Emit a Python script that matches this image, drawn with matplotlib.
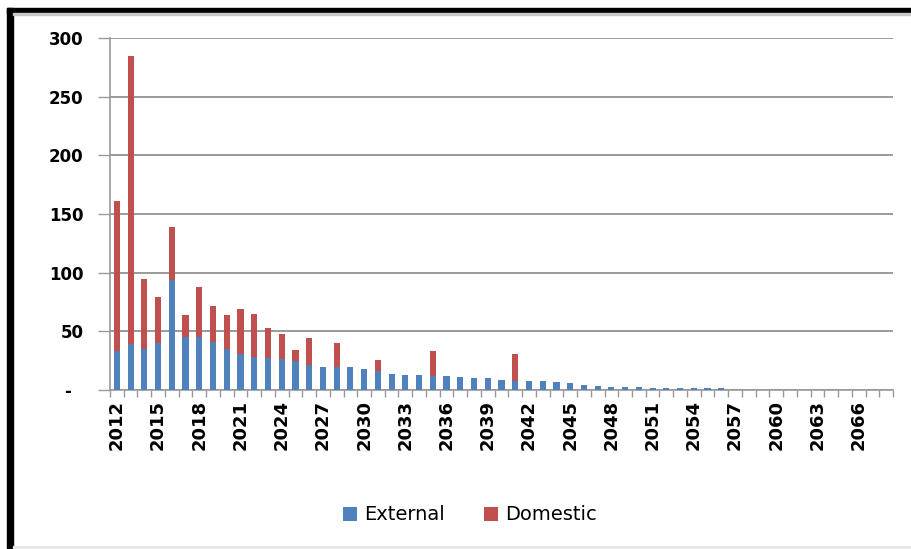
import matplotlib.pyplot as plt
from matplotlib.patches import Rectangle
import numpy as np

# years on the x axis, one bar per year
years = list(range(2012, 2069))

external = [33, 39, 35, 40, 94, 45, 45.5, 41, 35, 31,
            28.5, 27.5, 26.5, 24.5, 21.5, 19.5, 19.5, 19.5, 17.5, 16,
            14, 13, 13, 12, 12, 11, 10, 10, 8.5, 7.7,
            7.7, 7.7, 6.5, 5.7, 4.3, 3.4, 2.3, 2.3, 2.3, 1.4,
            1.4, 1.4, 1.4, 1.4, 1.4,
            0, 0, 0, 0, 0, 0, 0, 0, 0, 0, 0, 0]

domestic = [128, 245.5, 60, 39, 45, 19, 42, 31, 28.5, 38,
            36, 25, 21, 9.5, 23, 0, 20.5, 0, 0, 9.5,
            0, 0, 0, 21, 0, 0, 0, 0, 0, 23] + [0] * 27

yticks = [0, 50, 100, 150, 200, 250, 300]
ytick_labels = ["-  ", "50", "100", "150", "200", "250", "300"]

blue = "#4F81BD"
red = "#C0504D"
grid_col = "#9a9a9a"

fig = plt.figure(figsize=(9.11, 5.49), dpi=100)
ax = fig.add_axes([110 / 911, 1 - 390 / 549, 783 / 911, 352 / 549])

x = np.arange(len(years))
ax.bar(x, external, width=0.45, color=blue, label="External", zorder=3)
ax.bar(x, domestic, width=0.45, bottom=external, color=red, label="Domestic", zorder=3)

ax.set_xlim(-0.5, len(years) - 0.5)
ax.set_ylim(0, 300)

ax.set_yticks(yticks)
ax.set_yticklabels(ytick_labels, fontsize=12, fontweight="bold")
ax.yaxis.grid(True, color=grid_col, linewidth=1.4, zorder=0)

# labels every third year, tick marks between every bar
ax.set_xticks(x[::3])
ax.set_xticklabels([str(y) for y in years[::3]], rotation=90,
                   fontsize=13, fontweight="bold")
ax.set_xticks(np.arange(-0.5, len(years)), minor=True)
ax.tick_params(axis="x", which="major", length=0, pad=7)
ax.tick_params(axis="x", which="minor", length=5, color=grid_col, width=1)
ax.tick_params(axis="y", length=9, color=grid_col, width=1, pad=10)

for s in ["top", "right"]:
    ax.spines[s].set_visible(False)
for s in ["left", "bottom"]:
    ax.spines[s].set_color(grid_col)
    ax.spines[s].set_linewidth(1.2)

fig.legend(loc="center", bbox_to_anchor=(470 / 911, 1 - 515 / 549), ncol=2,
           frameon=False, fontsize=14, handlelength=0.7, handleheight=0.7,
           columnspacing=2.0, handletextpad=0.4)

# black frame along the top and left edges
fig.add_artist(Rectangle((7 / 911, 1 - 13 / 549), 904 / 911, 5 / 549,
                         transform=fig.transFigure, color="black"))
fig.add_artist(Rectangle((7 / 911, 0), 6 / 911, 1 - 8 / 549,
                         transform=fig.transFigure, color="black"))
fig.add_artist(Rectangle((13 / 911, 1 - 15 / 549), 898 / 911, 2 / 549,
                         transform=fig.transFigure, color="#c8c8c8"))
fig.add_artist(Rectangle((13 / 911, 1 / 549), 898 / 911, 2 / 549,
                         transform=fig.transFigure, color="#e6e6e6"))

plt.savefig("out.png", dpi=100)
plt.close()
